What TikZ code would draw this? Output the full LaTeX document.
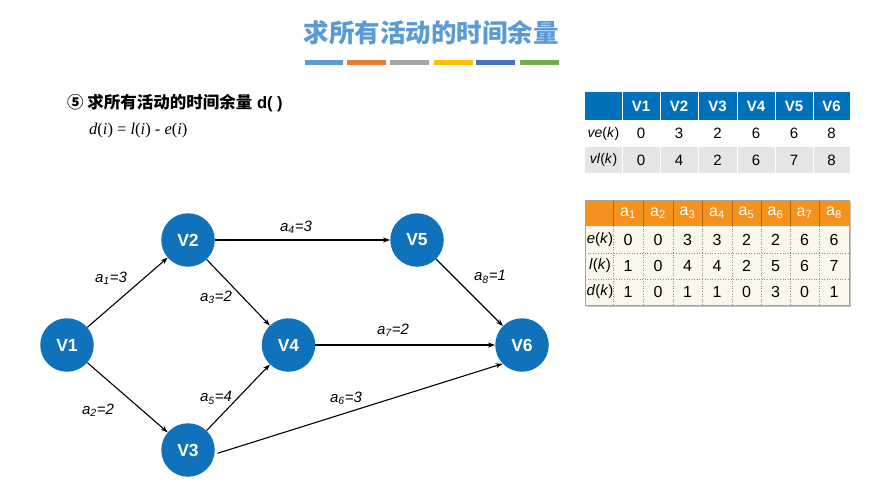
\documentclass[tikz,border=0pt]{standalone}
\usepackage{fontspec}
\setmainfont{Liberation Sans}
\newfontfamily\cjk{Noto Sans CJK SC}
\newfontfamily\serif{Liberation Serif}
\usetikzlibrary{arrows.meta}
\definecolor{nodeblue}{RGB}{16,114,186}
\definecolor{titleblue}{RGB}{91,155,213}
\definecolor{barA}{RGB}{91,155,213}
\definecolor{barB}{RGB}{237,125,49}
\definecolor{barC}{RGB}{165,165,165}
\definecolor{barD}{RGB}{255,192,0}
\definecolor{barE}{RGB}{68,114,196}
\definecolor{barF}{RGB}{112,173,71}
\definecolor{hdrblue}{RGB}{0,112,186}
\definecolor{rowgray}{RGB}{229,229,229}
\definecolor{hdrorange}{RGB}{245,146,30}
\definecolor{beige}{RGB}{251,247,234}
\definecolor{bordergray}{RGB}{165,165,165}
\tikzset{
  vnode/.style={circle, fill=nodeblue, minimum size=53.5pt, inner sep=0pt,
    text=white, font=\fontsize{17.5}{17.5}\selectfont\bfseries},
  arr/.style={-{Stealth[length=7pt,width=5pt]}, line width=1.1pt, black},
  elabel/.style={font=\fontsize{15}{15}\selectfont\itshape, inner sep=0pt},
  tone/.style={font=\fontsize{15}{15}\selectfont, inner sep=0pt},
  tonelab/.style={font=\fontsize{14}{14}\selectfont, inner sep=0pt},
  tonehdr/.style={font=\fontsize{15}{15}\selectfont\bfseries, text=white, inner sep=0pt},
  ttwo/.style={font=\fontsize{16}{16}\selectfont, inner sep=0pt},
  ttwolab/.style={font=\fontsize{15}{15}\selectfont, inner sep=0pt},
  ttwohdr/.style={font=\fontsize{16}{16}\selectfont, text=white, inner sep=0pt},
}
\begin{document}
\begin{tikzpicture}[x=1pt,y=-1pt]
\useasboundingbox[fill=white] (0,0) rectangle (877,484);
% title
\node[text=titleblue, font=\cjk\bfseries\fontsize{25.5}{25.5}\selectfont] (title) at (431,33) {求所有活动的时间余量};
\fill[barA] (305,60) rectangle (343,65);
\fill[barB] (347,60) rectangle (386,65);
\fill[barC] (390,60) rectangle (429,65);
\fill[barD] (434,60) rectangle (473,65);
\fill[barE] (476,60) rectangle (515,65);
\fill[barF] (520,60) rectangle (559,65);
% subtitle
\node[anchor=west, inner sep=0pt, font=\fontsize{16.5}{16.5}\selectfont] (sub) at (67,103) {{\cjk\bfseries ⑤ 求所有活动的时间余量} \textbf{d( )}};
\node[anchor=west, inner sep=0pt, font=\serif\fontsize{16.5}{16.5}\selectfont] (formula) at (89,131) {\textit{d}(\textit{i}) = \textit{l}(\textit{i}) - \textit{e}(\textit{i})};
% graph nodes
\node[vnode] (V1) at (67,345) {V1};
\node[vnode] (V2) at (188,240) {V2};
\node[vnode] (V3) at (188,450) {V3};
\node[vnode] (V4) at (288.5,345) {V4};
\node[vnode] (V5) at (417,240) {V5};
\node[vnode] (V6) at (522,345) {V6};
% edges
\draw[arr] (V1) -- (V2);
\draw[arr] (V1) -- (V3);
\draw[arr] (V2) -- (V4);
\draw[arr] (V3) -- (V4);
\draw[arr] (V2) -- (V5);
\draw[arr] (V4) -- (V6);
\draw[arr] (V5) -- (V6);
\draw[arr, shorten <=3pt] (V3.-9) -- (V6.224);
% edge labels
\node[elabel] (l1) at (111,278) {a\textsubscript{1}=3};
\node[elabel] (l2) at (98,410) {a\textsubscript{2}=2};
\node[elabel] (l3) at (216,297) {a\textsubscript{3}=2};
\node[elabel] (l4) at (296,227) {a\textsubscript{4}=3};
\node[elabel] (l5) at (216,398) {a\textsubscript{5}=4};
\node[elabel] (l6) at (346,398) {a\textsubscript{6}=3};
\node[elabel] (l7) at (393,330) {a\textsubscript{7}=2};
\node[elabel] (l8) at (490,277) {a\textsubscript{8}=1};
% table 1
\fill[hdrblue] (585,92) rectangle (850,120);
\fill[rowgray] (585,147) rectangle (850,173);
\draw[rowgray!80!black!40, line width=0.6pt] (585,147) -- (850,147);
\foreach \xx in {622,660,698,737,775,813} {
  \draw[white, line width=1pt] (\xx,92) -- (\xx,173);
}
\foreach \lab/\cx [count=\i] in {V1/641,V2/679,V3/717.5,V4/756,V5/794,V6/831.5} {
  \node[tonehdr] (tAh\i) at (\cx,106.5) {\lab};
}
\node[tonelab] (tAr1) at (603.5,133.5) {\textit{ve}(\textit{k})};
\node[tonelab] (tAr2) at (603.5,160) {\textit{vl}(\textit{k})};
\foreach \va/\vb/\cx [count=\i] in {0/0/641,3/4/679,2/2/717.5,6/6/756,6/7/794,8/8/831.5} {
  \node[tone] (tAa\i) at (\cx,133.5) {\va};
  \node[tone] (tAb\i) at (\cx,160) {\vb};
}
% table 2
\fill[black!25] (587,202) rectangle (851,307);
\fill[beige] (585,200) rectangle (849,305);
\fill[hdrorange] (585,200) rectangle (849,226);
\foreach \xx in {613,643,673,702,732,761,790,819} {
  \draw[hdrorange!70!black, line width=0.5pt] (\xx,200) -- (\xx,226);
  \draw[black!45, line width=0.6pt, dotted] (\xx,226) -- (\xx,305);
}
\foreach \yy in {253,279} {
  \draw[black!45, line width=0.6pt, dotted] (585,\yy) -- (849,\yy);
}
\draw[bordergray, line width=0.8pt] (585,200) rectangle (849,305);
\foreach \cx [count=\i] in {628,658,687.5,717,746.5,775.5,804.5,834} {
  \node[ttwohdr] (tBh\i) at (\cx,213) {a\textsubscript{\i}};
}
\node[ttwolab] (tBr1) at (600,239.5) {\textit{e}(\textit{k})};
\node[ttwolab] (tBr2) at (600,266) {\textit{l}(\textit{k})};
\node[ttwolab] (tBr3) at (600,292) {\textit{d}(\textit{k})};
\foreach \ve/\vl/\vd/\cx [count=\i] in {0/1/1/628,0/0/0/658,3/4/1/687.5,3/4/1/717,2/2/0/746.5,2/5/3/775.5,6/6/0/804.5,6/7/1/834} {
  \node[ttwo] (tBe\i) at (\cx,239.5) {\ve};
  \node[ttwo] (tBl\i) at (\cx,266) {\vl};
  \node[ttwo] (tBd\i) at (\cx,292) {\vd};
}
\end{tikzpicture}
\end{document}
